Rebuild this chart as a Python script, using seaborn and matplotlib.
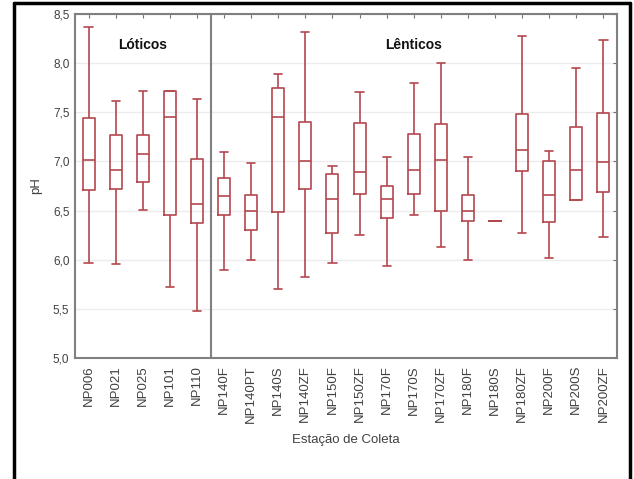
import matplotlib
matplotlib.use("Agg")
import matplotlib.pyplot as plt
from matplotlib.lines import Line2D
import numpy as np
import pandas as pd
import seaborn as sns

# pH summary per sampling station: minimum, quartiles, median, maximum
stations = ["NP006", "NP021", "NP025", "NP101", "NP110",
            "NP140F", "NP140PT", "NP140S", "NP140ZF", "NP150F", "NP150ZF",
            "NP170F", "NP170S", "NP170ZF", "NP180F", "NP180S", "NP180ZF",
            "NP200F", "NP200S", "NP200ZF"]
ph_max = [8.37, 7.61, 7.72, 7.72, 7.64, 7.10, 6.98, 7.89, 8.32, 6.95, 7.71,
          7.05, 7.80, 8.00, 7.04, 6.39, 8.28, 7.11, 7.95, 8.24]
ph_q3 = [7.44, 7.27, 7.27, 7.72, 7.02, 6.83, 6.66, 7.75, 7.40, 6.87, 7.39,
         6.75, 7.28, 7.38, 6.66, 6.39, 7.48, 7.00, 7.35, 7.49]
ph_median = [7.01, 6.91, 7.08, 7.45, 6.57, 6.65, 6.50, 7.45, 7.00, 6.62, 6.89,
             6.62, 6.91, 7.01, 6.50, 6.39, 7.12, 6.66, 6.91, 6.99]
ph_q1 = [6.71, 6.72, 6.79, 6.45, 6.37, 6.45, 6.30, 6.49, 6.72, 6.27, 6.67,
         6.42, 6.67, 6.50, 6.39, 6.39, 6.90, 6.38, 6.61, 6.69]
ph_min = [5.97, 5.96, 6.51, 5.72, 5.48, 5.90, 6.00, 5.70, 5.82, 5.97, 6.25,
          5.94, 6.45, 6.13, 6.00, 6.39, 6.27, 6.02, 6.61, 6.23]
n_lotic = 5
y_ticks = [5.0, 5.5, 6.0, 6.5, 7.0, 7.5, 8.0, 8.5]
y_tick_labels = ["5,0", "5,5", "6,0", "6,5", "7,0", "7,5", "8,0", "8,5"]

# Long table: the five summary values of each station
rows = []
for i, st in enumerate(stations):
    for v in (ph_min[i], ph_q1[i], ph_median[i], ph_q3[i], ph_max[i]):
        rows.append({"Estação": st, "pH": v})
df = pd.DataFrame(rows)

sns.set_style("white")
plt.rcParams["font.family"] = ["Liberation Sans", "DejaVu Sans"]

W, H = 634, 479
fig = plt.figure(figsize=(W / 100, H / 100), dpi=100)
ax = fig.add_axes([75 / W, 1 - 358 / H, 542 / W, 344 / H])

box_color = "#b4474e"
sns.boxplot(data=df, x="Estação", y="pH", order=stations, whis=(0, 100),
            width=0.44, fill=False, color=box_color, linewidth=1.2,
            showfliers=False, ax=ax)

# Wider whisker caps
for cont in ax.containers:
    for cap in getattr(cont, "caps", []):
        xd = np.asarray(cap.get_xdata(), dtype=float)
        c = xd.mean()
        cap.set_xdata([c - 0.15, c + 0.15])

ax.set_ylim(5.0, 8.5)
ax.set_xlim(-0.5, len(stations) - 0.5)
ax.set_yticks(y_ticks)
ax.set_yticklabels(y_tick_labels)
ax.yaxis.grid(True, color="#ececec", linewidth=1.0)
ax.set_axisbelow(True)

ax.tick_params(axis="both", which="both", direction="in", length=3,
               color="#707070", top=True, right=True)
ax.tick_params(axis="y", labelsize=8.5, labelcolor="#404040", pad=4)
ax.tick_params(axis="x", labelsize=9.5, labelcolor="#404040", labelrotation=90, pad=5)
for sp in ax.spines.values():
    sp.set_color("#808080")
    sp.set_linewidth(1.5)

ax.set_xlabel("Estação de Coleta", fontsize=9.5, color="#404040", labelpad=8)
ax.set_ylabel("pH", fontsize=9.5, color="#404040", labelpad=8)

# Divider between lotic and lentic stations
ax.axvline(n_lotic - 0.5, color="#808080", linewidth=1.5)
ax.text(2, 8.18, "Lóticos", ha="center", va="center", fontsize=10,
        fontweight="bold", color="#111111")
ax.text(12, 8.18, "Lênticos", ha="center", va="center", fontsize=10,
        fontweight="bold", color="#111111")

# Frame around the figure
def px_line(x0, y0, x1, y1):
    fig.add_artist(Line2D([x0 / W, x1 / W], [1 - y0 / H, 1 - y1 / H],
                          color="black", linewidth=2.5,
                          transform=fig.transFigure))

px_line(14, 3, 630, 3)
px_line(14, 3, 14, H)
px_line(630, 3, 630, H)

fig.savefig("out.png", dpi=100)
